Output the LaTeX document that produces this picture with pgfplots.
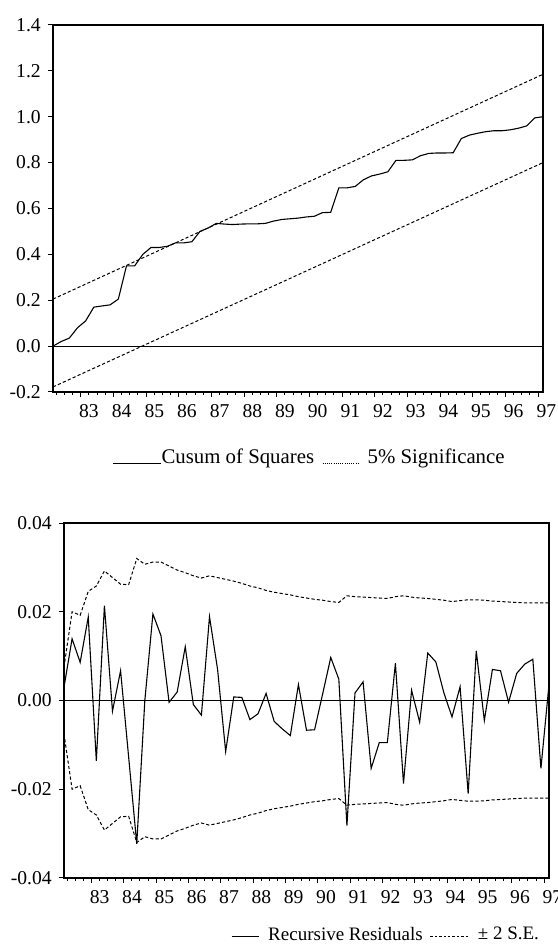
\documentclass[border=0pt]{standalone}
\usepackage{pgfplots}
\pgfplotsset{compat=1.18}
\usepackage{fontspec}
\setmainfont{Liberation Serif}

\pgfplotstableread{
x y
82.00 0.000
82.25 0.020
82.50 0.035
82.75 0.080
83.00 0.110
83.25 0.170
83.50 0.175
83.75 0.180
84.00 0.205
84.25 0.350
84.50 0.350
84.75 0.400
85.00 0.430
85.25 0.430
85.50 0.435
85.75 0.450
86.00 0.450
86.25 0.455
86.50 0.500
86.75 0.515
87.00 0.535
87.25 0.532
87.50 0.530
87.75 0.532
88.00 0.533
88.25 0.533
88.50 0.535
88.75 0.545
89.00 0.552
89.25 0.555
89.50 0.558
89.75 0.563
90.00 0.566
90.25 0.582
90.50 0.583
90.75 0.690
91.00 0.690
91.25 0.696
91.50 0.725
91.75 0.742
92.00 0.750
92.25 0.760
92.50 0.810
92.75 0.810
93.00 0.812
93.25 0.830
93.50 0.840
93.75 0.842
94.00 0.842
94.25 0.843
94.50 0.905
94.75 0.920
95.00 0.928
95.25 0.935
95.50 0.939
95.75 0.939
96.00 0.943
96.25 0.950
96.50 0.960
96.75 0.995
97.00 1.000
}\cusumsq

\pgfplotstableread{
x r u l
82.00 0.0030 0.0075 -0.0075
82.25 0.0139 0.0200 -0.0200
82.50 0.0086 0.0192 -0.0192
82.75 0.0188 0.0246 -0.0246
83.00 -0.0136 0.0258 -0.0258
83.25 0.0214 0.0292 -0.0292
83.50 -0.0024 0.0277 -0.0277
83.75 0.0067 0.0262 -0.0262
84.00 -0.0128 0.0261 -0.0261
84.25 -0.0323 0.0320 -0.0320
84.50 0.0000 0.0307 -0.0307
84.75 0.0195 0.0312 -0.0312
85.00 0.0146 0.0312 -0.0312
85.25 -0.0004 0.0303 -0.0303
85.50 0.0019 0.0294 -0.0294
85.75 0.0121 0.0288 -0.0288
86.00 -0.0009 0.0281 -0.0281
86.25 -0.0033 0.0276 -0.0276
86.50 0.0189 0.0281 -0.0281
86.75 0.0070 0.0277 -0.0277
87.00 -0.0115 0.0273 -0.0273
87.25 0.0008 0.0269 -0.0269
87.50 0.0007 0.0264 -0.0264
87.75 -0.0043 0.0258 -0.0258
88.00 -0.0030 0.0254 -0.0254
88.25 0.0016 0.0248 -0.0248
88.50 -0.0047 0.0244 -0.0244
88.75 -0.0064 0.0241 -0.0241
89.00 -0.0079 0.0238 -0.0238
89.25 0.0036 0.0234 -0.0234
89.50 -0.0067 0.0231 -0.0231
89.75 -0.0066 0.0228 -0.0228
90.00 0.0015 0.0226 -0.0226
90.25 0.0097 0.0223 -0.0223
90.50 0.0048 0.0221 -0.0221
90.75 -0.0282 0.0236 -0.0236
91.00 0.0017 0.0234 -0.0234
91.25 0.0042 0.0233 -0.0233
91.50 -0.0153 0.0232 -0.0232
91.75 -0.0095 0.0231 -0.0231
92.00 -0.0095 0.0230 -0.0230
92.25 0.0084 0.0234 -0.0234
92.50 -0.0187 0.0236 -0.0236
92.75 0.0023 0.0233 -0.0233
93.00 -0.0049 0.0231 -0.0231
93.25 0.0107 0.0230 -0.0230
93.50 0.0087 0.0228 -0.0228
93.75 0.0017 0.0226 -0.0226
94.00 -0.0037 0.0223 -0.0223
94.25 0.0031 0.0225 -0.0225
94.50 -0.0210 0.0227 -0.0227
94.75 0.0112 0.0227 -0.0227
95.00 -0.0045 0.0226 -0.0226
95.25 0.0070 0.0224 -0.0224
95.50 0.0067 0.0223 -0.0223
95.75 -0.0004 0.0222 -0.0222
96.00 0.0061 0.0221 -0.0221
96.25 0.0082 0.0220 -0.0220
96.50 0.0093 0.0220 -0.0220
96.75 -0.0153 0.0220 -0.0220
97.00 0.0036 0.0220 -0.0220
}\recres

\pgfplotsset{
  eviews/.style={
    scale only axis,
    xmin=82, xmax=97,
    axis line style={black, line width=0.6pt},
    tick align=outside, xtick pos=bottom, ytick pos=left,
    major tick length=2.6pt, minor tick length=1.6pt,
    every tick/.style={black, line width=0.5pt},
    xtick={82.85,83.85,84.85,85.85,86.85,87.85,88.85,89.85,90.85,91.85,92.85,93.85,94.85,95.85,96.85},
    xticklabels={83,84,85,86,87,88,89,90,91,92,93,94,95,96,97},
    minor xtick={82.1,82.35,...,96.9},
    xticklabel style={xshift=4.1pt, font=\fontsize{9.8}{11}\selectfont},
    yticklabel style={font=\fontsize{9.8}{11}\selectfont},
    scaled y ticks=false,
    legend style={draw=none, fill=none, inner sep=0pt, legend columns=2,
      nodes={inner sep=0.8pt}},
    legend cell align=left,
  }
}

\begin{document}
\begin{tikzpicture}[x=1pt,y=1pt]
\useasboundingbox (0,0) rectangle (278.5,475.5);

\begin{axis}[eviews,
  at={(26.5pt,279.5pt)}, anchor=south west,
  width=245pt, height=183.5pt,
  ymin=-0.2, ymax=1.4,
  ytick={-0.2,0,0.2,0.4,0.6,0.8,1.0,1.2,1.4},
  yticklabels={-0.2,0.0,0.2,0.4,0.6,0.8,1.0,1.2,1.4},
  legend style={at={(0.1204,0)}, anchor=west, yshift=-33pt,
    font=\fontsize{10.4}{12}\selectfont,
    /tikz/every odd column/.append style={column sep=-0.8pt},
    /tikz/every even column/.append style={column sep=3.2pt}},
]
\addplot[black, line width=0.55pt, sharp plot,
  legend image code/.code={\draw[black, line width=0.6pt] (0pt,-2.8pt) -- (24pt,-2.8pt);}]
  table[x=x, y=y] {\cusumsq};
\addlegendentry{Cusum of Squares}
\addplot[black, line width=0.5pt, dash pattern=on 1.6pt off 1.1pt, forget plot]
  coordinates {(82,0.205) (97,1.185)};
\addplot[black, line width=0.5pt, dash pattern=on 1.6pt off 1.1pt, forget plot]
  coordinates {(82,-0.178) (97,0.800)};
\addplot[black, line width=0.55pt, forget plot] coordinates {(82,0) (97,0)};
\addlegendimage{black, line width=0.5pt,
  legend image code/.code={\draw[black, line width=0.5pt, dash pattern=on 0.5pt off 0.6pt] (0pt,-2.6pt) -- (18.5pt,-2.6pt); \path (22.3pt,-2.6pt);}}
\addlegendentry{5\% Significance}
\end{axis}

\begin{axis}[eviews,
  at={(32pt,36.5pt)}, anchor=south west,
  width=242.5pt, height=177.5pt,
  ymin=-0.04, ymax=0.04,
  ytick={-0.04,-0.02,0,0.02,0.04},
  yticklabels={-0.04,-0.02,0.00,0.02,0.04},
  legend style={at={(0.344,0)}, anchor=west, yshift=-28.5pt,
    font=\fontsize{9.5}{11}\selectfont,
    /tikz/every odd column/.append style={column sep=3.7pt},
    /tikz/every even column/.append style={column sep=2.7pt}},
]
\addplot[black, line width=0.55pt, sharp plot,
  legend image code/.code={\draw[black, line width=0.5pt] (0pt,-1pt) -- (13.5pt,-1pt);}]
  table[x=x, y=r] {\recres};
\addlegendentry{Recursive Residuals}
\addplot[black, line width=0.5pt, dash pattern=on 1.6pt off 1.1pt,
  legend image code/.code={\draw[black, line width=0.5pt, dash pattern=on 1.2pt off 1pt] (0pt,-1pt) -- (19pt,-1pt);}]
  table[x=x, y=u] {\recres};
\addlegendentry{± 2 S.E.}
\addplot[black, line width=0.5pt, dash pattern=on 1.6pt off 1.1pt, forget plot]
  table[x=x, y=l] {\recres};
\addplot[black, line width=0.55pt, forget plot] coordinates {(82,0) (97,0)};
\end{axis}
\end{tikzpicture}
\end{document}
